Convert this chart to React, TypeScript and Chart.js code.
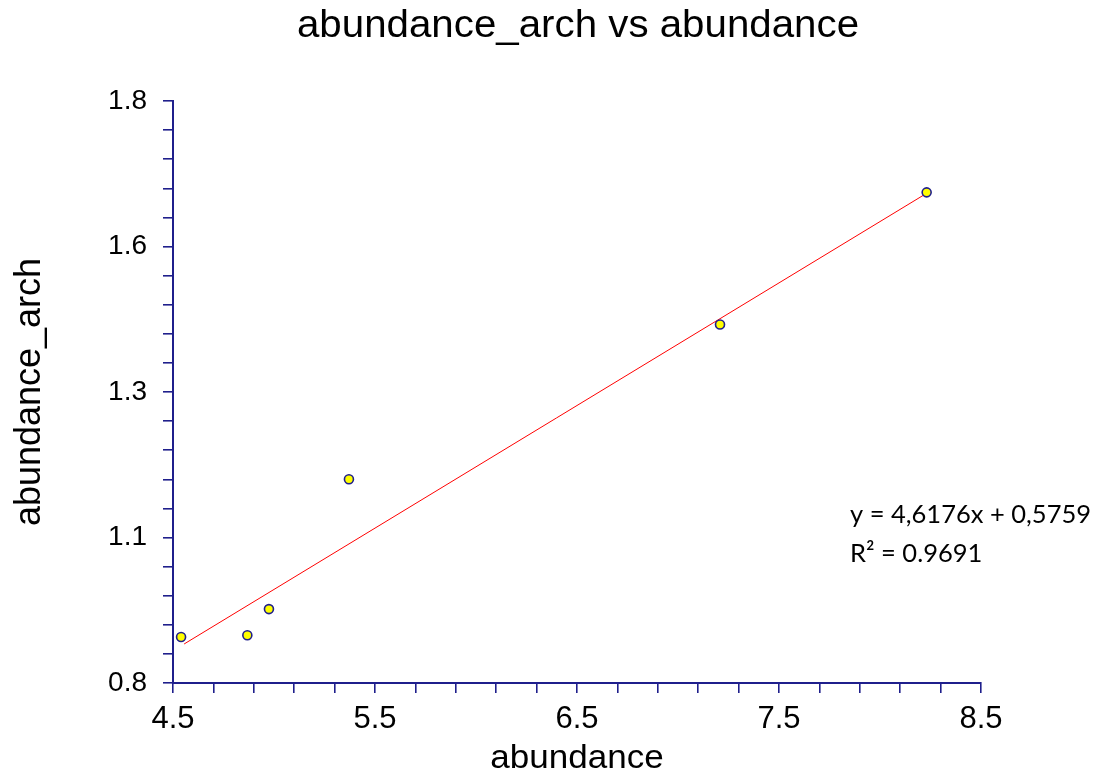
import React, { useEffect, useRef } from "react";
import { Chart, registerables } from "chart.js";

Chart.register(...registerables);

// ---- data ----
const abundance = [4.54, 4.868, 4.975, 5.371, 7.208, 8.231];
const abundanceArch = [0.879, 0.882, 0.927, 1.15, 1.416, 1.643];
const trendX = [4.555, 8.243];
const trendY = [0.867, 1.644];

const xTickLabels = ["4.5", "5.5", "6.5", "7.5", "8.5"];
const yTickLabels = ["0.8", "1.1", "1.3", "1.6", "1.8"];

const titleText = "abundance_arch vs abundance";
const xTitleText = "abundance";
const yTitleText = "abundance_arch";
const equationLines = ["y = 4,6176x + 0,5759", "R² = 0.9691"];

const X_MIN = 4.5, X_MAX = 8.5, X_STEP = 0.2;
const Y_MIN = 0.8, Y_MAX = 1.8, Y_STEP = 0.05;
const LABEL_EVERY = 5;

const AXIS = "#1f1f8c";
const FONT = "'Liberation Sans', Arial, sans-serif";

function makeTicks(min: number, max: number, step: number) {
  const n = Math.round((max - min) / step);
  const t: { value: number }[] = [];
  for (let i = 0; i <= n; i++) t.push({ value: +(min + i * step).toFixed(6) });
  return t;
}

const textPlugin = {
  id: "textPlugin",
  afterDraw(chart: any) {
    const ctx = chart.ctx as CanvasRenderingContext2D;
    const draw = (text: string, x: number, y: number, font: string, sx: number, align: CanvasTextAlign = "center") => {
      ctx.save();
      ctx.translate(x, y);
      ctx.scale(sx, 1);
      ctx.font = font;
      ctx.fillStyle = "#000";
      ctx.textAlign = align;
      ctx.textBaseline = "alphabetic";
      ctx.fillText(text, 0, 0);
      ctx.restore();
    };
    draw(titleText, 578, 37, `38px ${FONT}`, 1.06);
    draw(xTitleText, 577, 768, `34px ${FONT}`, 1.03);
    ctx.save();
    ctx.translate(40, 392);
    ctx.rotate(-Math.PI / 2);
    ctx.font = `36px ${FONT}`;
    ctx.fillStyle = "#000";
    ctx.textAlign = "center";
    ctx.textBaseline = "alphabetic";
    ctx.fillText(yTitleText, 0, 0);
    ctx.restore();
    draw(equationLines[0], 850, 523, `25.5px Lato, 'Open Sans', sans-serif`, 1, "left");
    draw(equationLines[1], 850, 562, `25.5px Lato, 'Open Sans', sans-serif`, 1, "left");
  },
};

export default function App() {
  const ref = useRef<HTMLCanvasElement | null>(null);
  useEffect(() => {
    if (!ref.current) return;
    const chart = new Chart(ref.current, {
      type: "scatter",
      data: {
        datasets: [
          {
            type: "line",
            data: trendX.map((x, i) => ({ x, y: trendY[i] })),
            borderColor: "#ff0000",
            borderWidth: 1,
            pointRadius: 0,
            fill: false,
            order: 2,
          } as any,
          {
            data: abundance.map((x, i) => ({ x, y: abundanceArch[i] })),
            backgroundColor: "#ffff00",
            borderColor: AXIS,
            borderWidth: 1.6,
            pointRadius: 4.5,
            order: 1,
          },
        ],
      },
      options: {
        responsive: false,
        animation: false,
        layout: { padding: { top: 101, right: 123, left: 0, bottom: 0 } },
        plugins: {
          legend: { display: false },
          title: { display: false },
          tooltip: { enabled: false },
        },
        scales: {
          x: {
            type: "linear",
            min: X_MIN,
            max: X_MAX,
            afterBuildTicks: (s: any) => { s.ticks = makeTicks(X_MIN, X_MAX, X_STEP); },
            afterFit: (s: any) => { s.height = 92; },
            ticks: {
              autoSkip: false,
              maxRotation: 0,
              minRotation: 0,
              padding: 8,
              color: "#000",
              font: { family: FONT, size: 31 },
              callback: (_v: any, i: number) => (i % LABEL_EVERY === 0 ? xTickLabels[i / LABEL_EVERY] : ""),
            },
            grid: { drawOnChartArea: false, drawTicks: true, tickLength: 10, color: AXIS, lineWidth: 1.6 },
            border: { display: true, color: AXIS, width: 2 },
          },
          y: {
            type: "linear",
            min: Y_MIN,
            max: Y_MAX,
            afterBuildTicks: (s: any) => { s.ticks = makeTicks(Y_MIN, Y_MAX, Y_STEP); },
            afterFit: (s: any) => { s.width = 173; },
            ticks: {
              autoSkip: false,
              padding: 16,
              color: "#000",
              font: { family: FONT, size: 28 },
              callback: (_v: any, i: number) => (i % LABEL_EVERY === 0 ? yTickLabels[i / LABEL_EVERY] : ""),
            },
            grid: { drawOnChartArea: false, drawTicks: true, tickLength: 10, color: AXIS, lineWidth: 1.6 },
            border: { display: true, color: AXIS, width: 2 },
          },
        },
      },
      plugins: [textPlugin],
    });
    return () => chart.destroy();
  }, []);
  return (
    <div style={{ position: "absolute", left: 0, top: 0, width: 1104, height: 775, background: "#fff" }}>
      <canvas ref={ref} width={1104} height={775} style={{ display: "block" }} />
    </div>
  );
}
